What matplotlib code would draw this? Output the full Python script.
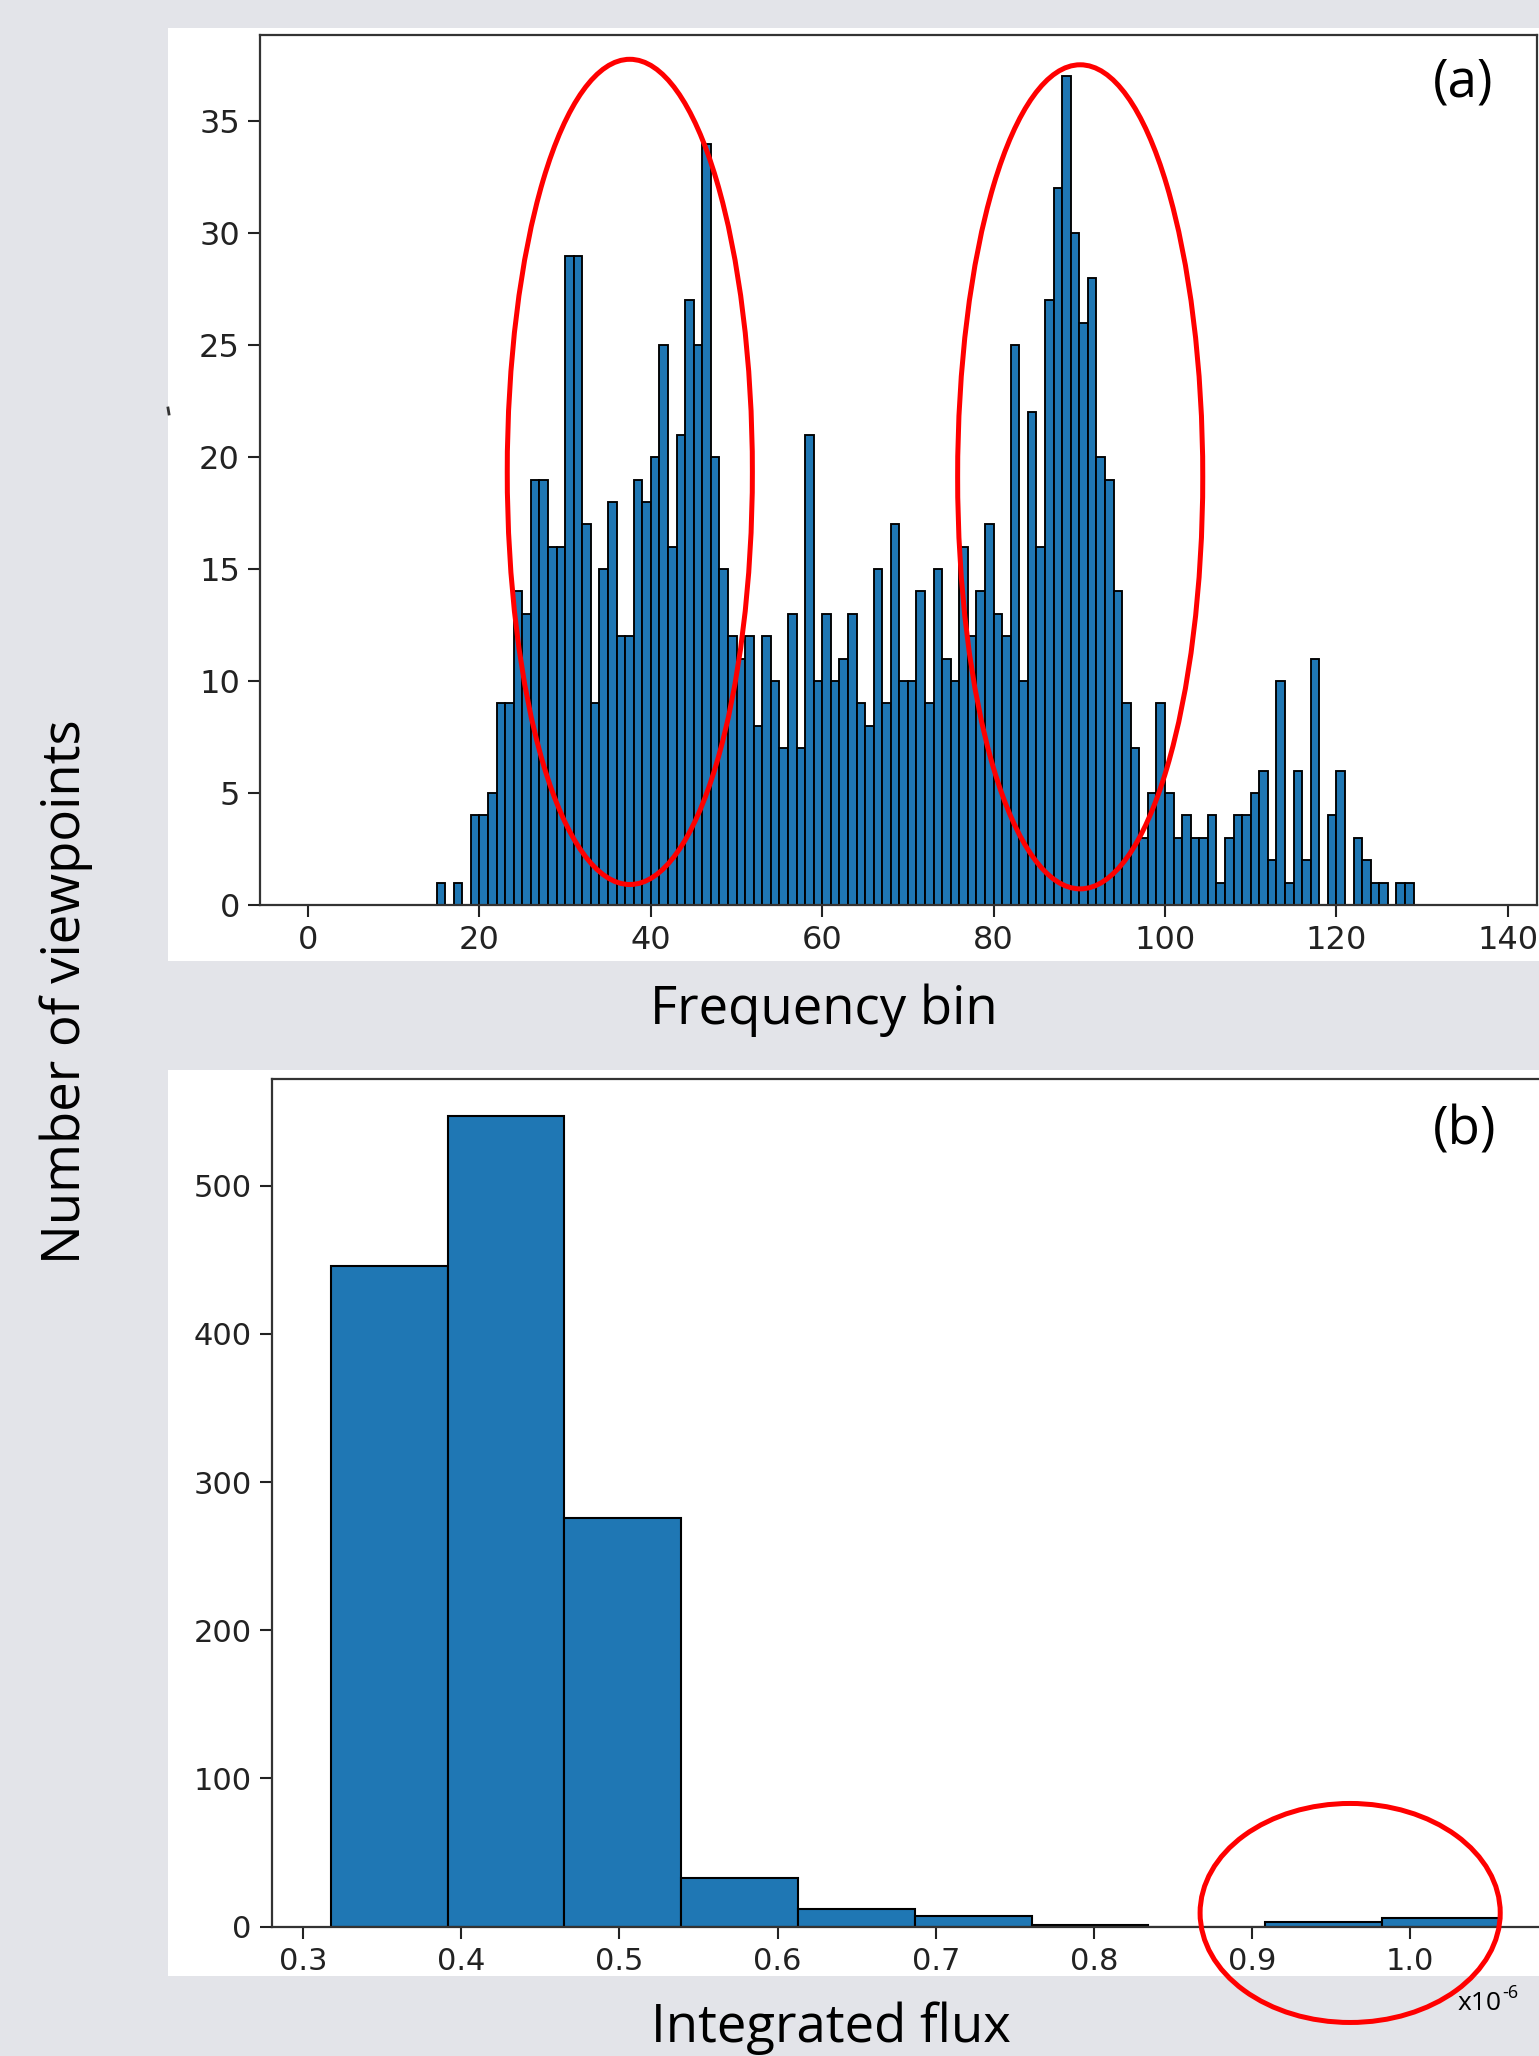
import matplotlib
matplotlib.use("Agg")
import matplotlib.pyplot as plt
from matplotlib.patches import Rectangle, Ellipse
from matplotlib.lines import Line2D
import numpy as np

# figure size in pixels (dpi 100)
W, H = 1539, 2056

# --- panel (a): number of viewpoints per frequency bin ---
freq_bins = list(range(136))
freq_counts = [
    0, 0, 0, 0, 0, 0, 0, 0, 0, 0,
    0, 0, 0, 0, 0, 1, 0, 1, 0, 4,
    4, 5, 9, 9, 14, 13, 19, 19, 16, 16,
    29, 29, 17, 9, 15, 18, 12, 12, 19, 18,
    20, 25, 16, 21, 27, 25, 34, 20, 15, 12,
    11, 12, 8, 12, 10, 7, 13, 7, 21, 10,
    13, 10, 11, 13, 9, 8, 15, 9, 17, 10,
    10, 14, 9, 15, 11, 10, 16, 12, 14, 17,
    13, 12, 25, 10, 22, 16, 27, 32, 37, 30,
    26, 28, 20, 19, 14, 9, 7, 3, 5, 9,
    5, 3, 4, 3, 3, 4, 1, 3, 4, 4,
    5, 6, 2, 10, 1, 6, 2, 11, 0, 4,
    6, 0, 3, 2, 1, 1, 0, 1, 1, 0,
    0, 0, 0, 0, 0, 0,
]

# --- panel (b): number of viewpoints per integrated flux (x1e-6) ---
flux_edges = [0.3175, 0.3914, 0.4652, 0.5391, 0.6129, 0.6868,
              0.7606, 0.8345, 0.9083, 0.9822, 1.0560]
flux_counts = [446, 547, 276, 33, 12, 7, 1, 0, 3, 6]

BG = "#e3e4e9"
BAR = "#1f77b4"
LABEL_FONT = ["Open Sans", "DejaVu Sans"]


def fx(x):
    return x / W


def fy(y):
    return 1 - y / H


fig = plt.figure(figsize=(W / 100, H / 100), dpi=100, facecolor=BG)

# white screenshot panels
for x0, y0, x1, y1 in [(168, 28, 1539, 961), (168, 1070, 1539, 1976)]:
    fig.add_artist(Rectangle((fx(x0), fy(y1)), (x1 - x0) / W, (y1 - y0) / H,
                             transform=fig.transFigure, facecolor="white",
                             edgecolor="none", zorder=0))

ax1 = fig.add_axes([fx(260), fy(905), (1537 - 260) / W, (905 - 35) / H])
ax2 = fig.add_axes([fx(272), fy(1926.6), (1557 - 272) / W, (1926.6 - 1079) / H])

ax1.bar(freq_bins, freq_counts, width=1.0, align="edge", color=BAR,
        edgecolor="black", linewidth=1.35)
ax1.set_xlim(-5.6, 143.4)
ax1.set_ylim(0, 38.85)
ax1.set_xticks(range(0, 141, 20))
ax1.set_yticks(range(0, 36, 5))

ax2.bar(flux_edges[:-1], flux_counts, width=np.diff(flux_edges), align="edge",
        color=BAR, edgecolor="black", linewidth=1.5)
ax2.set_xlim(0.2803, 1.0929)
ax2.set_ylim(0, 572)
ax2.set_xticks([0.3, 0.4, 0.5, 0.6, 0.7, 0.8, 0.9, 1.0])
ax2.set_yticks(range(0, 501, 100))

for ax, fs in [(ax1, 23), (ax2, 22)]:
    ax.set_facecolor("white")
    ax.tick_params(length=8.5, width=1.5, pad=6, labelsize=fs,
                   colors="#222222")
    for s in ax.spines.values():
        s.set_linewidth(1.6)
        s.set_color("#333333")

# red ellipses marking the regions of interest
for cx, cy, w, h in [(37.55, 19.34, 28.6, 36.85), (90.1, 19.12, 28.6, 36.8)]:
    ax1.add_patch(Ellipse((cx, cy), w, h, facecolor="none", edgecolor="red",
                          linewidth=3.6, clip_on=False, zorder=5))
ax2.add_patch(Ellipse((0.9621, 9.2), 0.1898, 147.8, facecolor="none",
                      edgecolor="red", linewidth=3.6, clip_on=False, zorder=5))

# labels
fig.text(fx(824), fy(1024), "Frequency bin", ha="center", va="baseline",
         fontsize=38, family=LABEL_FONT)
fig.text(fx(831), fy(2042), "Integrated flux", ha="center", va="baseline",
         fontsize=38, family=LABEL_FONT)
fig.text(fx(66), fy(992), "Number of viewpoints", ha="center", va="center",
         rotation=90, fontsize=38, family=LABEL_FONT)
fig.text(fx(1463), fy(83), "(a)", ha="center", va="center", fontsize=38,
         family=LABEL_FONT)
fig.text(fx(1465), fy(1131), "(b)", ha="center", va="center", fontsize=38,
         family=LABEL_FONT)
fig.text(fx(1458), fy(2010), "x10", ha="left", va="baseline", fontsize=19,
         family=LABEL_FONT)
fig.text(fx(1502), fy(1998), "-6", ha="left", va="baseline", fontsize=13,
         family=LABEL_FONT)

# leftover speck from the cropped screenshot
fig.add_artist(Line2D([fx(168), fx(169)], [fy(408), fy(414)],
                      transform=fig.transFigure, color="#333333", linewidth=2))

fig.savefig("out.png", dpi=100, facecolor=BG)
